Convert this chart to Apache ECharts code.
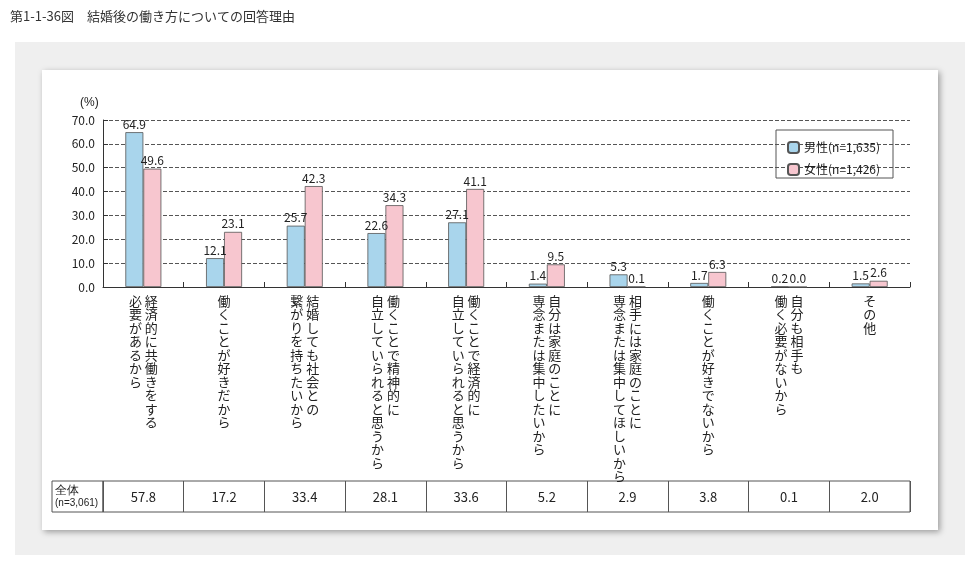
<!DOCTYPE html>
<html><head><meta charset="utf-8">
<script src="https://cdn.jsdelivr.net/npm/echarts@6/dist/echarts.min.js"></script>
<style>html,body{margin:0;padding:0;background:#fff}#c{width:977px;height:568px}</style>
</head><body><div id="c"></div>
<script>
const categories = [
  ["経済的に共働きをする","必要があるから"],
  ["働くことが好きだから"],
  ["結婚しても社会との","繋がりを持ちたいから"],
  ["働くことで精神的に","自立していられると思うから"],
  ["働くことで経済的に","自立していられると思うから"],
  ["自分は家庭のことに","専念または集中したいから"],
  ["相手には家庭のことに","専念または集中してほしいから"],
  ["働くことが好きでないから"],
  ["自分も相手も","働く必要がないから"],
  ["その他"]
];
const male = [64.9,12.1,25.7,22.6,27.1,1.4,5.3,1.7,0.2,1.5];
const female = [49.6,23.1,42.3,34.3,41.1,9.5,0.1,6.3,0.0,2.6];
const total = [57.8,17.2,33.4,28.1,33.6,5.2,2.9,3.8,0.1,2.0];
const yTicks = [0,10,20,30,40,50,60,70];

function vert(lines){
  const n = Math.max(...lines.map(l=>l.length));
  const rows=[];
  for(let i=0;i<n;i++){
    const parts=[];
    for(let j=lines.length-1;j>=0;j--){ parts.push(lines[j][i]||'　'); }
    rows.push(parts.join(' '));
  }
  return rows.join('\n');
}
const catNames = categories.map(c=>c.join('/'));
const ch = echarts.init(document.getElementById('c'));
const F = '"Noto Sans CJK JP", sans-serif';
ch.setOption({
  animation:false,
  textStyle:{fontFamily:F},
  graphic:[
    {type:'text',left:10,top:10,style:{text:'第1-1-36図　結婚後の働き方についての回答理由',fontSize:13,fill:'#333',fontFamily:F},z:-1},
    {type:'rect',shape:{x:15,y:42,width:950,height:513},style:{fill:'#efefef'},z:-10},
    {type:'rect',shape:{x:42,y:70,width:896,height:460},style:{fill:'#fff',shadowBlur:6,shadowColor:'rgba(0,0,0,0.35)',shadowOffsetX:2,shadowOffsetY:2},z:-9},
    {type:'text',left:80,top:97,style:{text:'(%)',fontSize:12,fill:'#222'}},
    {type:'rect',shape:{x:52,y:481,width:51,height:31},style:{fill:'none',stroke:'#555',lineWidth:1}},
    {type:'text',x:55,y:484,style:{rich:{a:{fontSize:12,fill:'#222',lineHeight:13},b:{fontSize:10,fill:'#222',lineHeight:13}},text:'{a|全体}\n{b|(n=3,061)}'}},
    {type:'rect',shape:{x:776,y:130,width:117,height:48},style:{fill:'#fff',stroke:'#555',lineWidth:1}}
  ],
  legend:{orient:'vertical',left:782,top:136,itemWidth:11,itemHeight:11,itemGap:9,
    textStyle:{fontSize:12,color:'#222'},data:['男性(n=1,635)','女性(n=1,426)']},
  grid:[{left:103,right:67,top:120,height:167},{left:103,right:67,top:481,height:31,show:true,borderColor:'#555',borderWidth:1}],
  xAxis:[
    {type:'category',gridIndex:0,data:catNames,
      axisLine:{lineStyle:{color:'#333'}},axisTick:{show:true,inside:true,lineStyle:{color:'#333'}},
      axisLabel:{interval:0,margin:7,fontSize:13,lineHeight:13.5,color:'#222',formatter:v=>vert(v.split('/'))}},
    {type:'category',gridIndex:1,data:total.map(v=>v.toFixed(1)),
      axisLine:{show:false},axisTick:{show:false},
      splitLine:{show:true,lineStyle:{color:'#555',type:'solid'}},
      axisLabel:{interval:0,inside:true,margin:15,fontSize:13,color:'#222',verticalAlign:'middle'}}
  ],
  yAxis:[
    {type:'value',gridIndex:0,min:0,max:70,interval:10,
      axisLine:{show:true,lineStyle:{color:'#333'}},axisTick:{show:true,inside:true,lineStyle:{color:'#333'}},
      axisLabel:{fontSize:12,color:'#222',formatter:v=>yTicks.includes(v)?v.toFixed(1):''},
      splitLine:{lineStyle:{type:'dashed',color:'#555'}}},
    {type:'value',gridIndex:1,show:false}
  ],
  series:[
    {name:'男性(n=1,635)',type:'bar',data:male,barWidth:18,barGap:'0%',
      itemStyle:{color:'#a9d5ec',borderColor:'#555',borderWidth:0.8},
      label:{show:true,position:'top',distance:2,fontSize:12,color:'#222',formatter:p=>p.value.toFixed(1)}},
    {name:'女性(n=1,426)',type:'bar',data:female,barWidth:18,
      itemStyle:{color:'#f7c6cf',borderColor:'#555',borderWidth:0.8},
      label:{show:true,position:'top',distance:2,fontSize:12,color:'#222',formatter:p=>p.value.toFixed(1)}}
  ]
});
</script></body></html>
